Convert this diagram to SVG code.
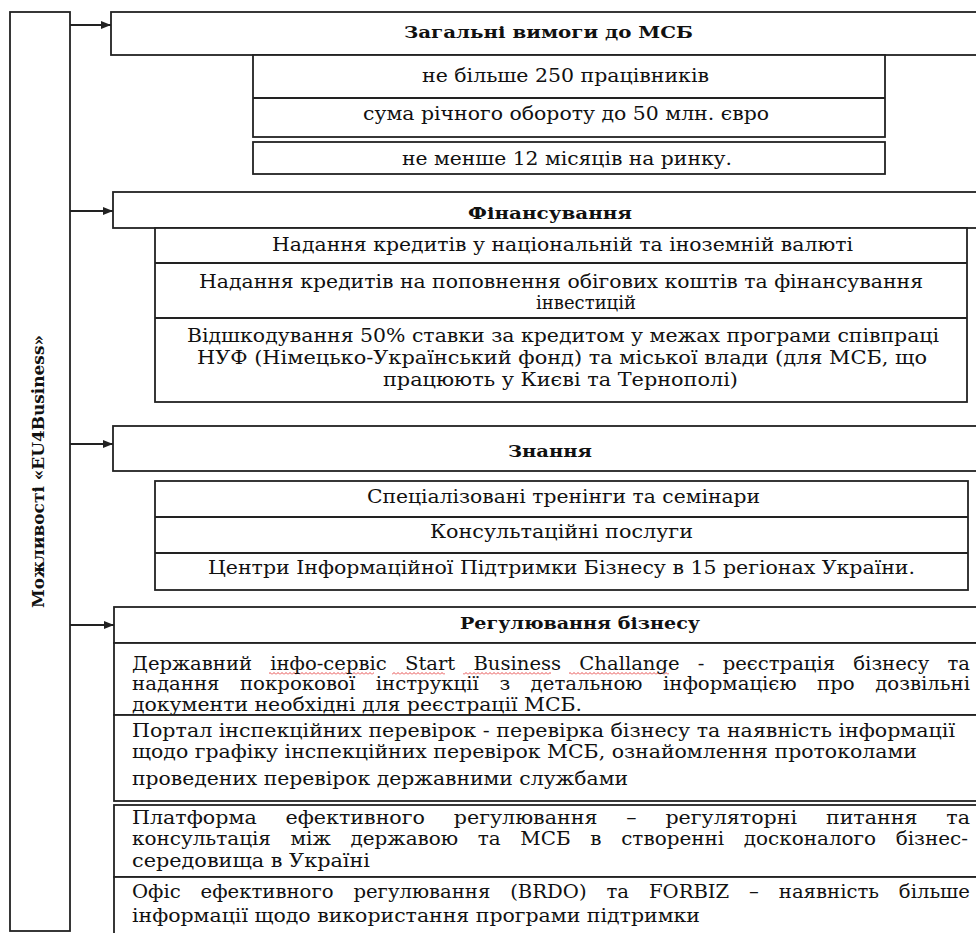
<svg xmlns="http://www.w3.org/2000/svg" width="976" height="933" viewBox="0 0 976 933">
<defs>
<style>
.box{fill:#fff;stroke:#222;stroke-width:1.8}
.ln{fill:none;stroke:#222;stroke-width:1.8}
.t{font-family:"DejaVu Serif","Liberation Serif",serif;font-size:18px;fill:#111}
.b{font-weight:bold;font-size:17px}
</style>
<marker id="ah" viewBox="0 0 10 8" refX="10" refY="4" markerWidth="10" markerHeight="8" markerUnits="userSpaceOnUse" orient="auto">
<path d="M0,0 L10,4 L0,8 Z" fill="#222"/>
</marker>
<pattern id="sq" width="4" height="3" patternUnits="userSpaceOnUse">
<path d="M0,2.5 L2,0.5 L4,2.5" fill="none" stroke="#e02020" stroke-width="0.8"/>
</pattern>
</defs>
<rect width="976" height="933" fill="#fff"/>

<g id="root">
<rect class="box" x="10" y="12" width="60" height="919"/>
<text class="t b" font-size="16" transform="translate(44,608) rotate(-90)" textLength="273" lengthAdjust="spacingAndGlyphs">Можливості «EU4Business»</text>
</g>

<g id="connectors">
<line class="ln" x1="70" y1="25" x2="111" y2="25" marker-end="url(#ah)"/>
<line class="ln" x1="70" y1="211" x2="113" y2="211" marker-end="url(#ah)"/>
<line class="ln" x1="70" y1="444" x2="113" y2="444" marker-end="url(#ah)"/>
<line class="ln" x1="70" y1="625" x2="114" y2="625" marker-end="url(#ah)"/>
</g>

<g id="req">
<rect class="box" x="111" y="12" width="880" height="43"/>
<text class="t b" x="404" y="38" textLength="289" lengthAdjust="spacingAndGlyphs">Загальні вимоги до МСБ</text>
</g>
<g id="req-items">
<rect class="box" x="253" y="55" width="632" height="82"/>
<line class="ln" x1="253" y1="98" x2="885" y2="98"/>
<rect class="box" x="253" y="142" width="632" height="32"/>
<text class="t" x="422" y="82" textLength="287" lengthAdjust="spacingAndGlyphs">не більше 250 працівників</text>
<text class="t" x="363" y="120" textLength="406" lengthAdjust="spacingAndGlyphs">сума річного обороту до 50 млн. євро</text>
<text class="t" x="402" y="165" textLength="330" lengthAdjust="spacingAndGlyphs">не менше 12 місяців на ринку.</text>
</g>

<g id="fin">
<rect class="box" x="113" y="192" width="880" height="36"/>
<text class="t b" x="468" y="219" textLength="164" lengthAdjust="spacingAndGlyphs">Фінансування</text>
</g>
<g id="fin-items">
<rect class="box" x="155" y="228" width="812" height="174"/>
<line class="ln" x1="155" y1="263" x2="967" y2="263"/>
<line class="ln" x1="155" y1="318" x2="967" y2="318"/>
<text class="t" x="272" y="251" textLength="581" lengthAdjust="spacingAndGlyphs">Надання кредитів у національній та іноземній валюті</text>
<text class="t" x="199" y="288" textLength="724" lengthAdjust="spacingAndGlyphs">Надання кредитів на поповнення обігових коштів та фінансування</text>
<text class="t" x="586" y="309" text-anchor="middle">інвестицій</text>
<text class="t" x="187" y="342" textLength="752" lengthAdjust="spacingAndGlyphs">Відшкодування 50% ставки за кредитом у межах програми співпраці</text>
<text class="t" x="197" y="364" textLength="730" lengthAdjust="spacingAndGlyphs">НУФ (Німецько-Український фонд) та міської влади (для МСБ, що</text>
<text class="t" x="383" y="386" textLength="355" lengthAdjust="spacingAndGlyphs">працюють у Києві та Тернополі)</text>
</g>

<g id="know">
<rect class="box" x="113" y="426" width="880" height="45"/>
<text class="t b" x="508" y="457" textLength="84" lengthAdjust="spacingAndGlyphs">Знання</text>
</g>
<g id="know-items">
<rect class="box" x="155" y="481" width="813" height="109"/>
<line class="ln" x1="155" y1="517" x2="968" y2="517"/>
<line class="ln" x1="155" y1="553" x2="968" y2="553"/>
<text class="t" x="367" y="503" textLength="393" lengthAdjust="spacingAndGlyphs">Спеціалізовані тренінги та семінари</text>
<text class="t" x="430" y="538" textLength="263" lengthAdjust="spacingAndGlyphs">Консультаційні послуги</text>
<text class="t" x="208" y="574" textLength="707" lengthAdjust="spacingAndGlyphs">Центри Інформаційної Підтримки Бізнесу в 15 регіонах України.</text>
</g>

<g id="reg">
<rect class="box" x="114" y="607" width="880" height="36"/>
<text class="t b" x="460" y="629" textLength="240" lengthAdjust="spacingAndGlyphs">Регулювання бізнесу</text>
</g>

<g id="reg-1">
<rect class="box" x="114" y="643" width="880" height="72"/>
<rect x="269" y="672" width="105" height="3" fill="url(#sq)"/>
<rect x="392" y="672" width="53" height="3" fill="url(#sq)"/>
<rect x="463" y="672" width="88" height="3" fill="url(#sq)"/>
<rect x="569" y="672" width="100" height="3" fill="url(#sq)"/>
<text class="t" x="132" y="670" word-spacing="11" textLength="838" lengthAdjust="spacingAndGlyphs">Державний інфо-сервіс Start Business Challange - реєстрація бізнесу та</text>
<text class="t" x="132" y="690" word-spacing="13" textLength="838" lengthAdjust="spacingAndGlyphs">надання покрокової інструкції з детальною інформацією про дозвільні</text>
<text class="t" x="132" y="711" textLength="450" lengthAdjust="spacingAndGlyphs">документи необхідні для реєстрації МСБ.</text>
</g>

<g id="reg-2">
<rect class="box" x="114" y="715" width="880" height="86"/>
<text class="t" x="132" y="737" textLength="823" lengthAdjust="spacingAndGlyphs">Портал інспекційних перевірок - перевірка бізнесу та наявність  інформації</text>
<text class="t" x="132" y="758" textLength="785" lengthAdjust="spacingAndGlyphs">щодо графіку інспекційних перевірок МСБ, ознайомлення протоколами</text>
<text class="t" x="132" y="785" textLength="496" lengthAdjust="spacingAndGlyphs">проведених перевірок державними службами</text>
</g>

<g id="reg-3">
<rect class="box" x="114" y="805" width="880" height="72"/>
<text class="t" x="132" y="824" word-spacing="19.5" textLength="838" lengthAdjust="spacingAndGlyphs">Платформа ефективного регулювання – регуляторні питання та</text>
<text class="t" x="132" y="845" word-spacing="12" textLength="836" lengthAdjust="spacingAndGlyphs">консультація між державою та МСБ в створенні досконалого бізнес-</text>
<text class="t" x="132" y="867" textLength="238" lengthAdjust="spacingAndGlyphs">середовища в Україні</text>
</g>

<g id="reg-4">
<rect class="box" x="114" y="877" width="880" height="70"/>
<text class="t" x="132" y="898" word-spacing="12.5" textLength="838" lengthAdjust="spacingAndGlyphs">Офіс ефективного регулювання (BRDO) та FORBIZ – наявність більше</text>
<text class="t" x="132" y="922" textLength="568" lengthAdjust="spacingAndGlyphs">інформації щодо використання програми підтримки</text>
</g>
</svg>
